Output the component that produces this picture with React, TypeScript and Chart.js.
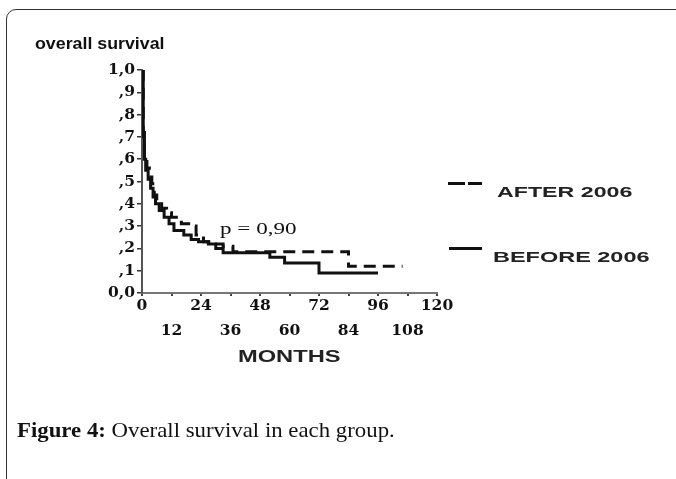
import React, { useEffect, useLayoutEffect, useRef, useState } from "react";
import { Chart, registerables } from "chart.js";

Chart.register(...registerables);

// ---- data ----
const afterMonths = [0, 0.5, 1, 2, 3, 4, 5, 6, 8, 10, 12, 16, 20, 22, 25, 29, 33, 37, 84, 106];
const afterSurv = [1.0, 0.72, 0.62, 0.56, 0.52, 0.49, 0.44, 0.41, 0.38, 0.36, 0.34, 0.31, 0.30, 0.26, 0.23, 0.22, 0.21, 0.185, 0.12, 0.12];

const beforeMonths = [0, 0.5, 1, 1.5, 2.5, 3.5, 4.5, 5.5, 7, 9, 11, 13, 17, 20, 23, 27, 30, 33, 52, 58, 72, 96];
const beforeSurv = [1.0, 0.70, 0.60, 0.55, 0.51, 0.47, 0.43, 0.40, 0.37, 0.34, 0.31, 0.28, 0.26, 0.24, 0.23, 0.22, 0.20, 0.18, 0.16, 0.135, 0.09, 0.09];

const xTicksMonths = [0, 12, 24, 36, 48, 60, 72, 84, 96, 108, 120];
const yTickLabels = ["0,0", ",1", ",2", ",3", ",4", ",5", ",6", ",7", ",8", ",9", "1,0"];

const legendAfter = "AFTER 2006";
const legendBefore = "BEFORE 2006";
const pValueText = "p = 0,90";
const yTitle = "overall survival";
const xTitle = "MONTHS";

function FitText({ children, left, top, width, style }: any) {
  const ref = useRef<HTMLSpanElement>(null);
  const [k, setK] = useState(1);
  useLayoutEffect(() => {
    if (ref.current) {
      const w = ref.current.offsetWidth;
      if (w > 0) setK(width / w);
    }
  }, [width]);
  return (
    <span
      ref={ref}
      style={{
        position: "absolute",
        left,
        top,
        whiteSpace: "nowrap",
        transform: `scaleX(${k})`,
        transformOrigin: "left center",
        display: "inline-block",
        ...style,
      }}
    >
      {children}
    </span>
  );
}

export default function App() {
  const canvasRef = useRef<HTMLCanvasElement>(null);

  useEffect(() => {
    if (!canvasRef.current) return;
    const after = afterMonths.map((m, i) => ({ x: m, y: afterSurv[i] }));
    const before = beforeMonths.map((m, i) => ({ x: m, y: beforeSurv[i] }));
    const tickFont = { family: "'DejaVu Serif', serif", weight: "bold" as const, size: 15.5 };
    const chart = new Chart(canvasRef.current, {
      type: "line",
      data: {
        datasets: [
          {
            label: legendAfter,
            data: after,
            borderColor: "#111",
            borderWidth: 3,
            borderDash: [12, 7],
            stepped: "before",
            pointRadius: 0,
            fill: false,
          },
          {
            label: legendBefore,
            data: before,
            borderColor: "#111",
            borderWidth: 3,
            stepped: "before",
            pointRadius: 0,
            fill: false,
          },
        ],
      },
      options: {
        animation: false,
        responsive: false,
        layout: { padding: { left: 0, top: 70, right: 239, bottom: 112 } },
        plugins: { legend: { display: false }, tooltip: { enabled: false } },
        scales: {
          x: {
            type: "linear",
            min: 0,
            max: 120,
            afterBuildTicks: (scale: any) => {
              scale.ticks = xTicksMonths.map((v) => ({ value: v }));
            },
            afterFit: (scale: any) => {
              scale.height = 74;
            },
            border: { display: true, color: "#777", width: 2 },
            grid: { drawOnChartArea: false, drawTicks: true, tickLength: 3, color: "#444", lineWidth: 2 },
            ticks: {
              autoSkip: false,
              maxRotation: 0,
              minRotation: 0,
              padding: -3,
              color: "#111",
              font: { ...tickFont, lineHeight: "25px" },
              callback: (v: any) => {
                const n = Number(v);
                return n % 24 === 0 ? String(n) : ["", String(n)];
              },
            },
          },
          y: {
            type: "linear",
            min: 0,
            max: 1,
            afterBuildTicks: (scale: any) => {
              scale.ticks = yTickLabels.map((_, i) => ({ value: i / 10 }));
            },
            afterFit: (scale: any) => {
              scale.width = 142;
            },
            border: { display: true, color: "#555", width: 2 },
            grid: { drawOnChartArea: false, drawTicks: true, tickLength: 5, color: "#333", lineWidth: 1.5 },
            ticks: {
              padding: 2,
              color: "#111",
              font: tickFont,
              callback: (v: any) => yTickLabels[Math.round(Number(v) * 10)],
            },
          },
        },
      },
    });
    return () => chart.destroy();
  }, []);

  const sans = "'Liberation Sans', Arial, sans-serif";
  const serif = "'Liberation Serif', 'Times New Roman', serif";

  return (
    <div
      style={{
        position: "absolute",
        left: 0,
        top: 0,
        width: 676,
        height: 479,
        overflow: "hidden",
        background: "#fff",
      }}
    >
      <div
        style={{
          position: "absolute",
          left: 6,
          top: 9,
          width: 720,
          height: 520,
          border: "1.5px solid #333",
          borderTopLeftRadius: 10,
        }}
      />
      <canvas
        ref={canvasRef}
        width={676}
        height={479}
        style={{ position: "absolute", left: 0, top: 0, width: 676, height: 479 }}
      />
      <FitText left={35} top={36} width={130} style={{ fontFamily: sans, fontWeight: "bold", fontSize: 16, lineHeight: "16px", color: "#111" }}>
        {yTitle}
      </FitText>
      <FitText left={238} top={349} width={102} style={{ fontFamily: sans, fontWeight: "bold", fontSize: 16, lineHeight: "16px", color: "#222" }}>
        {xTitle}
      </FitText>
      <FitText left={220} top={221} width={77} style={{ fontFamily: serif, fontSize: 16.5, lineHeight: "16px", color: "#111" }}>
        {pValueText}
      </FitText>
      {/* legend */}
      <div style={{ position: "absolute", left: 448, top: 182, width: 17, height: 3, background: "#111" }} />
      <div style={{ position: "absolute", left: 468, top: 182, width: 14, height: 3, background: "#111" }} />
      <FitText left={497} top={185} width={136} style={{ fontFamily: sans, fontWeight: "bold", fontSize: 14.5, lineHeight: "14px", color: "#222" }}>
        {legendAfter}
      </FitText>
      <div style={{ position: "absolute", left: 449, top: 247, width: 33, height: 2.5, background: "#111" }} />
      <FitText left={493} top={250} width={157} style={{ fontFamily: sans, fontWeight: "bold", fontSize: 14.5, lineHeight: "14px", color: "#222" }}>
        {legendBefore}
      </FitText>
      {/* caption */}
      <FitText left={17} top={420} width={378} style={{ fontFamily: serif, fontSize: 21, lineHeight: "21px", color: "#111" }}>
        <b>Figure 4:</b> Overall survival in each group.
      </FitText>
    </div>
  );
}
